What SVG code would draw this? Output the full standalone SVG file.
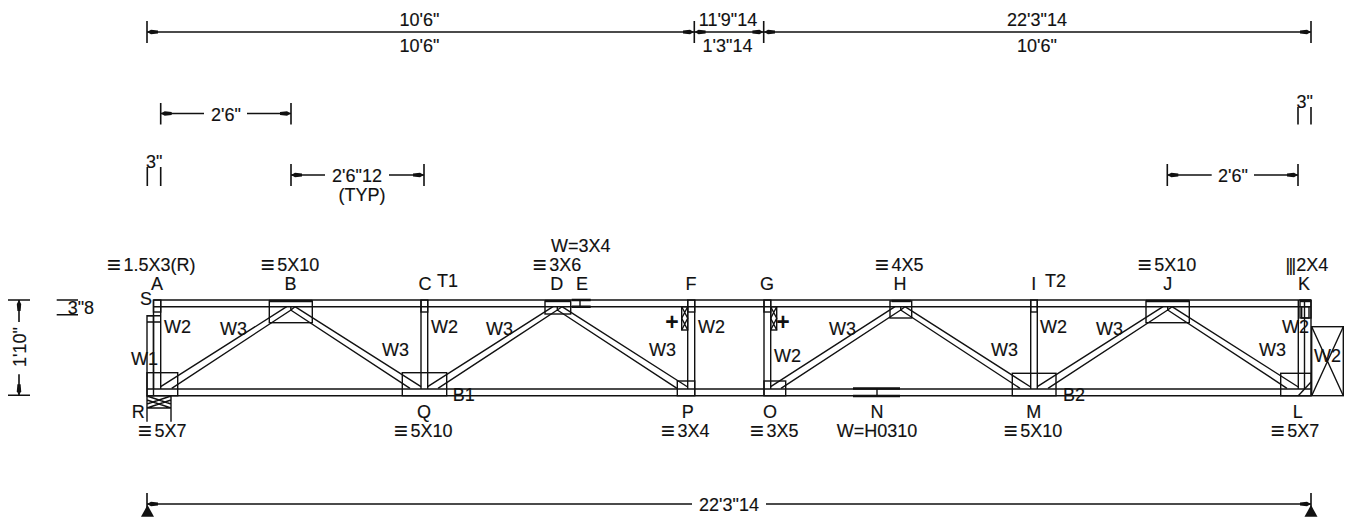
<svg xmlns="http://www.w3.org/2000/svg" width="1348" height="529" viewBox="0 0 1348 529">
<style>
text{font-family:"Liberation Sans",Arial,sans-serif;font-size:18px;fill:#111;stroke:#111;stroke-width:.15}
.m{text-anchor:middle}
.e{font-size:24px;stroke-width:0}
.p{font-size:23px;font-weight:bold;stroke-width:0}
line,path,rect,polyline{fill:none;stroke:#111;stroke-width:1.4}
.d{stroke-width:1.6}
.t{stroke-width:2.4}
.f{fill:#111;stroke:none}
</style>
<defs>
<path id="al" class="f" d="M0 0L4 -2.2L11 -1.6L11 1.6L4 2.2Z"/>
<path id="ar" class="f" d="M0 0L-4 -2.2L-11 -1.6L-11 1.6L-4 2.2Z"/>
<path id="au" class="f" d="M0 0L-2.2 4L-1.6 11L1.6 11L2.2 4Z"/>
<path id="ad" class="f" d="M0 0L-2.2 -4L-1.6 -11L1.6 -11L2.2 -4Z"/>
</defs>
<g id="connectors">
<path class="d" d="M147 32H1311M147 21V43M694.3 21V43M763.7 21V43M1311 21V43"/>
<use href="#al" x="147" y="32"/><use href="#ar" x="694" y="32"/><use href="#al" x="694.6" y="32"/><use href="#ar" x="763.4" y="32"/><use href="#al" x="764" y="32"/><use href="#ar" x="1311" y="32"/>
<path class="d" d="M160.7 113.5H204M247 113.5H291M160.7 103V124.5M291 103V124.5"/>
<use href="#al" x="160.7" y="113.5"/><use href="#ar" x="291" y="113.5"/>
<path class="d" d="M291 175H325M389 175H424M291 164V186M424 164V186"/>
<use href="#al" x="291" y="175"/><use href="#ar" x="424" y="175"/>
<path class="d" d="M147.3 167V186M160.7 167V186"/>
<path class="d" d="M1298 107V124.5M1311 107V124.5"/>
<path class="d" d="M1167.3 164V186M1298 164V186M1167.3 175H1211.7M1254 175H1298"/>
<use href="#al" x="1167.3" y="175"/><use href="#ar" x="1298" y="175"/>
<path class="d" d="M147 504H692M766 504H1311M147 493V510M1311 493V510"/>
<use href="#al" x="147" y="504"/><use href="#ar" x="1311" y="504"/>
<path class="f" d="M147.5 505L154 516.7H141Z"/><path class="f" d="M1311 505L1317.5 516.7H1304.5Z"/>
<path class="d" d="M8 300H30M8 395.3H30M19 300V322M19 374.3V395.3"/>
<use href="#au" x="19" y="300"/><use href="#ad" x="19" y="395.3"/>
<path class="d" d="M56.7 300H78M56.7 314.7H78"/>
</g>
<g id="truss">
<path class="d" d="M153.5 300H1311M153.5 306.7H1311M147 389H1311M147 395.7H1311"/>
<path d="M153.5 300V389M160.7 300V389M421 300V389M427.7 300V389M687.7 300V389M694.7 300V395.7M764 300V395.7M770.7 300V389M1030.7 300V389M1037.3 300V389M1298.3 300V389M1304.5 300V389M1311 300V395.7"/>
<path d="M160.7 386.7L286.7 306.7M171.7 388.3L291 310L295 306.7M290.7 310L410 388.3M295 306.7L421 386.7M290.8 306.7V310"/>
<path d="M427.7 386.7L553 306.7M438 388.3L557.3 310L562 306.7M557.3 310L677 388.3M562 306.7L687.7 387M557.3 306.7V310"/>
<path d="M770.7 386.7L895 306.7M781 388.3L900.7 310L905 306.7M900.7 310L1020 388.3M905 306.7L1030.7 387M900.7 306.7V310"/>
<path d="M1037.3 386.7L1163 306.7M1048 388.3L1167.7 310L1172 306.7M1167.7 310L1287 388.3M1172 306.7L1298.3 387M1167.7 306.7V310"/>
</g>
<g id="node-A"><rect x="153.5" y="300" width="7.2" height="12"/></g>
<g id="node-S"><rect x="147" y="315.7" width="6.5" height="80"/><path d="M147 322H160.7M147 315.7H160.7"/></g>
<g id="node-R"><rect x="147" y="372.7" width="30.7" height="23"/><path d="M147 395.7V421.7M171 395.7V421.7M147 408H171M147 396L171 404M147 404L171 396M147 400L171 408M147 408L171 400"/></g>
<g id="node-B"><rect x="269.3" y="301" width="43" height="21.7"/><path class="t" d="M269.3 301H312.3"/></g>
<g id="node-C"><rect x="421" y="300" width="6.7" height="12"/></g>
<g id="node-Q"><rect x="402.3" y="372.7" width="44.4" height="23"/></g>
<g id="node-D"><rect x="545" y="301" width="25.7" height="13"/><path class="t" d="M545 301H570.7"/></g>
<g id="node-E"><path class="t" d="M571.7 300H590.7M571.7 306.7H590.7"/><path d="M580 300V306.7"/></g>
<g id="node-F"><rect x="687.7" y="300" width="7" height="12"/><rect x="681.7" y="306.7" width="6" height="23.3"/><path d="M681.7 306.7L687.7 318.3L681.7 330M687.7 306.7L681.7 318.3L687.7 330"/></g>
<g id="node-P"><rect x="677.3" y="381" width="17.4" height="14.7"/></g>
<g id="node-G"><rect x="764" y="300" width="6.7" height="12"/><rect x="770.7" y="306.7" width="6" height="23.3"/><path d="M770.7 306.7L776.7 318.3L770.7 330M776.7 306.7L770.7 318.3L776.7 330"/></g>
<g id="node-O"><rect x="764" y="381" width="21.7" height="14.7"/></g>
<g id="node-H"><rect x="890" y="301" width="21.7" height="17"/><path class="t" d="M891.7 301H910.7"/></g>
<g id="node-N"><path class="t" d="M853 388.5H900M853 396H900"/><path d="M877 389V396"/></g>
<g id="node-I"><rect x="1030.7" y="300" width="6.6" height="12"/></g>
<g id="node-M"><rect x="1012.3" y="373.3" width="43.7" height="22.4"/></g>
<g id="node-J"><rect x="1146" y="301" width="43.3" height="21.7"/><path class="t" d="M1146 301H1189.3"/></g>
<g id="node-K"><rect x="1300" y="300" width="11" height="18"/><rect x="1301.7" y="306.7" width="7.3" height="11.3"/><path class="t" d="M1300 301H1311"/></g>
<g id="node-L"><rect x="1280.7" y="373.3" width="30.6" height="22.4"/><path d="M1298.3 395.7L1311 382"/><rect x="1311.7" y="326.7" width="31.6" height="69"/><path d="M1311.7 395.7L1343.3 326.7M1311.7 326.7L1343.3 395.7"/></g>
<g id="labels">
<text x="419.5" y="26" class="m">10'6"</text><text x="419.5" y="52" class="m">10'6"</text>
<text x="728" y="26" class="m">11'9"14</text><text x="727.5" y="52" class="m">1'3"14</text>
<text x="1037" y="26" class="m">22'3"14</text><text x="1037" y="52" class="m">10'6"</text>
<text x="226" y="121" class="m">2'6"</text>
<text x="357" y="182" class="m">2'6"12</text><text x="362" y="201" class="m">(TYP)</text>
<text x="146" y="168">3"</text><text x="1296.5" y="107.7">3"</text>
<text x="1233" y="181.7" class="m">2'6"</text>
<text x="729" y="511" class="m">22'3"14</text>
<text transform="translate(26 347) rotate(-90)" class="m">1'10"</text>
<text x="67.7" y="314">3"8</text>
<text x="107" y="271"><tspan class="e" dy="2">≡</tspan><tspan dx="2.5" dy="-2">1.5X3(R)</tspan></text>
<text x="260.7" y="271"><tspan class="e" dy="2">≡</tspan><tspan dx="2.5" dy="-2">5X10</tspan></text>
<text x="532.7" y="271"><tspan class="e" dy="2">≡</tspan><tspan dx="2.5" dy="-2">3X6</tspan></text><text x="551" y="251.7">W=3X4</text>
<text x="875" y="271"><tspan class="e" dy="2">≡</tspan><tspan dx="2.5" dy="-2">4X5</tspan></text>
<text x="1137.7" y="271"><tspan class="e" dy="2">≡</tspan><tspan dx="2.5" dy="-2">5X10</tspan></text>
<text x="1285.5" y="271"><tspan letter-spacing="-1.7">|||</tspan><tspan dx="1.8">2X4</tspan></text>
<text x="157" y="290" class="m">A</text><text x="290.5" y="290" class="m">B</text><text x="425" y="290" class="m">C</text>
<text x="556.7" y="290" class="m">D</text><text x="576" y="290">E</text><text x="691" y="290" class="m">F</text>
<text x="767" y="290" class="m">G</text><text x="900" y="290" class="m">H</text><text x="1033.7" y="290" class="m">I</text>
<text x="1167.7" y="290" class="m">J</text><text x="1304" y="290" class="m">K</text>
<text x="140" y="305">S</text><text x="437" y="287">T1</text><text x="1045" y="287">T2</text>
<text x="164" y="333">W2</text><text x="431" y="333">W2</text><text x="698" y="333">W2</text><text x="1040" y="333">W2</text><text x="1282" y="333">W2</text>
<text x="774" y="361.7">W2</text><text x="1314" y="362">W2</text><text x="131" y="365">W1</text>
<text x="220" y="335">W3</text><text x="486" y="335">W3</text><text x="829" y="335">W3</text><text x="1096" y="335">W3</text>
<text x="382" y="356">W3</text><text x="649" y="356">W3</text><text x="991" y="356">W3</text><text x="1259" y="356">W3</text>
<text x="672" y="329.5" class="m p">+</text><text x="783" y="329.5" class="m p">+</text>
<text x="452.7" y="401">B1</text><text x="1063" y="401">B2</text>
<text x="131.7" y="418">R</text><text x="424" y="418" class="m">Q</text><text x="687.7" y="418" class="m">P</text><text x="770" y="418" class="m">O</text>
<text x="877" y="418" class="m">N</text><text x="1033.7" y="418" class="m">M</text><text x="1297.7" y="418" class="m">L</text>
<text x="138" y="437"><tspan class="e" dy="2">≡</tspan><tspan dx="2.5" dy="-2">5X7</tspan></text>
<text x="394" y="437"><tspan class="e" dy="2">≡</tspan><tspan dx="2.5" dy="-2">5X10</tspan></text>
<text x="661" y="437"><tspan class="e" dy="2">≡</tspan><tspan dx="2.5" dy="-2">3X4</tspan></text>
<text x="750" y="437"><tspan class="e" dy="2">≡</tspan><tspan dx="2.5" dy="-2">3X5</tspan></text>
<text x="877" y="437" class="m">W=H0310</text>
<text x="1003.7" y="437"><tspan class="e" dy="2">≡</tspan><tspan dx="2.5" dy="-2">5X10</tspan></text>
<text x="1270.7" y="437"><tspan class="e" dy="2">≡</tspan><tspan dx="2.5" dy="-2">5X7</tspan></text>
</g>
</svg>
